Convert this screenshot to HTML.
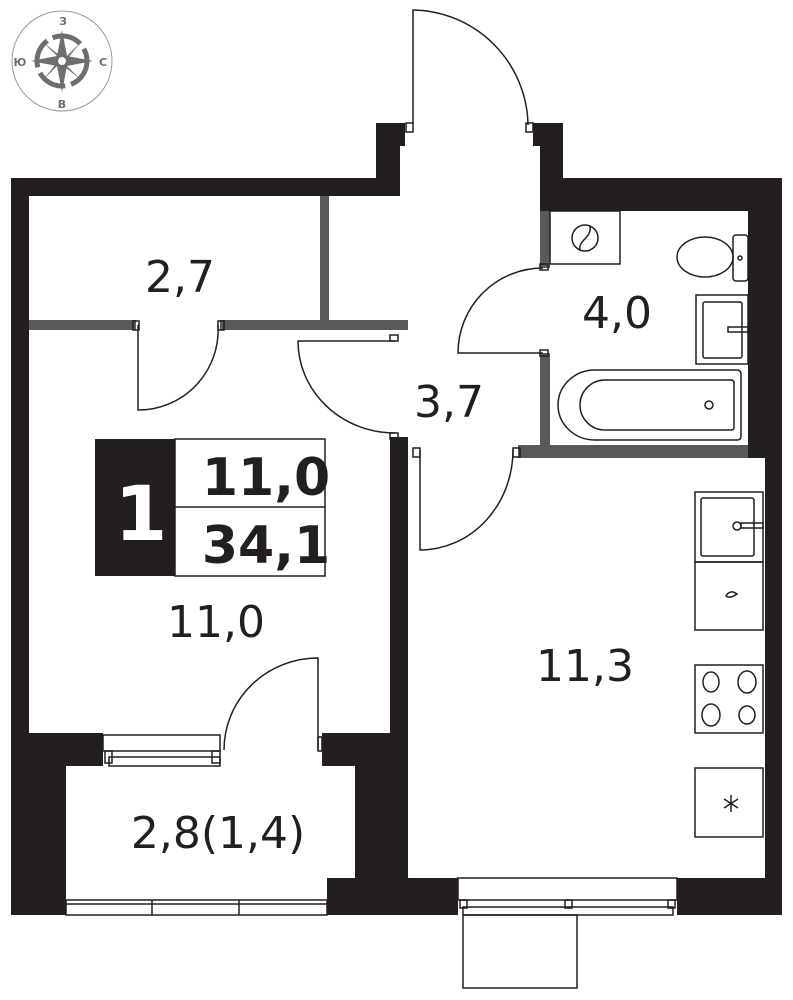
<!DOCTYPE html>
<html><head><meta charset="utf-8"><style>
html,body{margin:0;padding:0;background:#fff;width:793px;height:1000px;overflow:hidden}
text{font-family:"DejaVu Sans","Liberation Sans",sans-serif;fill:#231f20}
</style></head><body>
<svg width="793" height="1000" viewBox="0 0 793 1000" xmlns="http://www.w3.org/2000/svg">
<g fill="#231f20">
<!-- outer walls -->
<rect x="11" y="178" width="18" height="737"/>
<rect x="11" y="178" width="389" height="18"/>
<rect x="376" y="123" width="29" height="23"/>
<rect x="376" y="146" width="24" height="50"/>
<rect x="533" y="123" width="30" height="23"/>
<rect x="540" y="146" width="23" height="65"/>
<rect x="540" y="178" width="208" height="33"/>
<rect x="748" y="178" width="34" height="280"/>
<rect x="765" y="458" width="17" height="457"/>
<rect x="390" y="437" width="18" height="441"/>
<rect x="29" y="733" width="37" height="182"/>
<rect x="66" y="733" width="37" height="33"/>
<rect x="322" y="733" width="86" height="33"/>
<rect x="355" y="766" width="53" height="112"/>
<rect x="327" y="878" width="131" height="37"/>
<rect x="677" y="878" width="105" height="37"/>
<rect x="95" y="439" width="80" height="137"/>
</g>
<g fill="#58595b">
<rect x="29" y="320" width="107" height="10"/>
<rect x="220" y="320" width="188" height="10"/>
<rect x="320" y="196" width="9" height="124"/>
<rect x="540" y="211" width="10" height="57"/>
<rect x="540" y="353" width="10" height="100"/>
<rect x="518" y="445" width="230" height="13"/>
</g>
<g fill="none" stroke="#231f20" stroke-width="1.5">
<!-- compass -->
<circle cx="62" cy="61" r="50" stroke="#999" stroke-width="1"/>
<!-- entry door -->
<path d="M413 123 V10 A117 117 0 0 1 528 125"/>
<rect x="406" y="123" width="7" height="9"/><rect x="526" y="123" width="7" height="9"/>
<!-- 2,7 door -->
<path d="M138 325 V410 A80 80 0 0 0 218 325"/>
<rect x="133" y="321" width="6" height="9"/><rect x="218" y="321" width="6" height="9"/>
<!-- hall door -->
<path d="M395 341 H298 A97 92 0 0 0 395 433"/>
<rect x="390" y="335" width="8" height="6"/><rect x="390" y="433" width="8" height="6"/>
<!-- kitchen door -->
<path d="M420 450 V550 A93 100 0 0 0 513 450"/>
<rect x="413" y="448" width="7" height="9"/><rect x="513" y="448" width="7" height="9"/>
<!-- bath door -->
<path d="M543 268 A85 85 0 0 0 458 353 H543"/>
<rect x="540" y="264" width="8" height="6"/><rect x="540" y="350" width="8" height="6"/>
<!-- washer -->
<rect x="550" y="211" width="70" height="53"/>
<circle cx="585" cy="238" r="13"/><path d="M580 250 C578 240 592 238 590 226"/>
<!-- toilet -->
<rect x="733" y="235" width="15" height="46" rx="3"/>
<ellipse cx="705" cy="257" rx="28" ry="20"/>
<circle cx="740" cy="258" r="2"/>
<!-- bathroom sink -->
<rect x="696" y="295" width="52" height="69"/>
<rect x="703" y="302" width="39" height="56" rx="2"/>
<rect x="728" y="327" width="20" height="5"/>
<!-- bathtub -->
<path d="M595 370 H737 Q741 370 741 374 V436 Q741 440 737 440 H595 A37 35 0 0 1 595 370 Z"/>
<path d="M605 380 H731 Q734 380 734 383 V427 Q734 430 731 430 H605 A25 25 0 0 1 605 380 Z"/>
<circle cx="709" cy="405" r="4"/>
<!-- label box -->
<rect x="175" y="439" width="150" height="137"/>
<line x1="175" y1="507" x2="325" y2="507"/>
<!-- room 11 window and door -->
<rect x="103" y="735" width="117" height="16"/>
<rect x="105" y="751" width="7" height="12"/><rect x="212" y="751" width="8" height="12"/>
<rect x="109" y="757" width="111" height="9"/>
<path d="M318 750 V658 A94 92 0 0 0 224 750"/>
<rect x="318" y="737" width="4" height="14"/>
<!-- balcony window -->
<rect x="66" y="900" width="261" height="15"/>
<line x1="66" y1="904" x2="327" y2="904"/>
<line x1="152" y1="900" x2="152" y2="915"/><line x1="239" y1="900" x2="239" y2="915"/>
<!-- kitchen window -->
<rect x="458" y="878" width="219" height="22"/>
<rect x="460" y="900" width="7" height="8"/><rect x="565" y="900" width="7" height="8"/><rect x="668" y="900" width="7" height="8"/>
<rect x="463" y="907" width="210" height="8"/>
<rect x="463" y="915" width="114" height="73"/>
<!-- kitchen appliances -->
<rect x="695" y="492" width="68" height="70"/>
<rect x="701" y="498" width="53" height="58" rx="2"/>
<circle cx="737" cy="526" r="4"/><rect x="741" y="523" width="22" height="5"/>
<rect x="695" y="562" width="68" height="68"/>
<path d="M726 596 Q730 589 737 594 Q730 599 726 596 Z"/>
<rect x="695" y="665" width="68" height="68"/>
<ellipse cx="711" cy="682" rx="8" ry="10"/><ellipse cx="747" cy="682" rx="9" ry="11"/>
<ellipse cx="711" cy="715" rx="9" ry="11"/><ellipse cx="747" cy="715" rx="8" ry="9"/>
<rect x="695" y="768" width="68" height="69"/>
<path d="M731 795 V812 M724 799 L738 808 M738 799 L724 808"/>
</g>
<!-- compass rose -->
<g fill="#6d6e71">
<circle cx="62" cy="61" r="25" fill="none" stroke="#6d6e71" stroke-width="5" stroke-dasharray="30 6"/>
<path d="M62 30 L67 56 L93 61 L67 66 L62 92 L57 66 L31 61 L57 56 Z"/>
<path d="M43 42 L64 59 L81 42 L64 63 L81 80 L60 63 L43 80 L60 59 Z"/>
<circle cx="62" cy="61" r="5" fill="#fff" stroke="#6d6e71" stroke-width="2"/>
</g>
<g font-size="11" font-weight="bold" fill="#6d6e71" text-anchor="middle">
<text x="63" y="25" style="fill:#6d6e71">З</text>
<text x="62" y="108" style="fill:#6d6e71">В</text>
<text x="20" y="66" style="fill:#6d6e71">Ю</text>
<text x="103" y="66" style="fill:#6d6e71">С</text>
</g>
<g font-size="44" text-anchor="middle">
<text x="180" y="292">2,7</text>
<text x="617" y="328">4,0</text>
<text x="449" y="417">3,7</text>
<text x="216" y="637">11,0</text>
<text x="585" y="681">11,3</text>
<text x="218" y="848">2,8(1,4)</text>
</g>
<text x="141" y="540" font-size="76" font-weight="bold" text-anchor="middle" style="fill:#fff">1</text>
<text x="266" y="495" font-size="52" font-weight="bold" text-anchor="middle">11,0</text>
<text x="266" y="563" font-size="52" font-weight="bold" text-anchor="middle">34,1</text>
</svg>
</body></html>
